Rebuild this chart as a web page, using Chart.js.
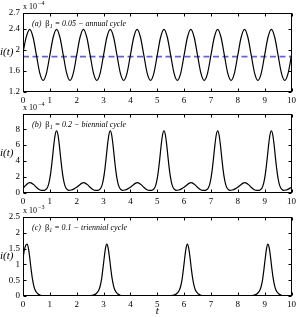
<!DOCTYPE html>
<html>
<head>
<meta charset="utf-8">
<script src="https://cdn.jsdelivr.net/npm/chart.js@4.4.0/dist/chart.umd.min.js"></script>
<style>
  html, body { margin: 0; padding: 0; background: #fff; }
  #wrap { position: relative; width: 299px; height: 317px; }
  canvas { position: absolute; left: 0; }
</style>
</head>
<body>
<div id="wrap">
  <canvas id="pa" width="299" height="105" style="top:0px"></canvas>
  <canvas id="pb" width="299" height="105" style="top:101px"></canvas>
  <canvas id="pc" width="299" height="113" style="top:204px"></canvas>
</div>
<script>
// ---- data (i(t) in units of 1e-4, 1e-4, 1e-3) ----
const X_TICKS = [0, 1, 2, 3, 4, 5, 6, 7, 8, 9, 10];

// (a) annual cycle
const tA = [0,0.125,0.25,0.375,0.5,0.625,0.75,0.875,
  1,1.125,1.25,1.375,1.5,1.625,1.75,1.875,
  2,2.125,2.25,2.375,2.5,2.625,2.75,2.875,
  3,3.125,3.25,3.375,3.5,3.625,3.75,3.875,
  4,4.125,4.25,4.375,4.5,4.625,4.75,4.875,
  5,5.125,5.25,5.375,5.5,5.625,5.75,5.875,
  6,6.125,6.25,6.375,6.5,6.625,6.75,6.875,
  7,7.125,7.25,7.375,7.5,7.625,7.75,7.875,
  8,8.125,8.25,8.375,8.5,8.625,8.75,8.875,
  9,9.125,9.25,9.375,9.5,9.625,9.75,9.875,10];
const iA = [1.95,2.25,2.39,2.24,1.90,1.56,1.42,1.56,
  1.90,2.24,2.39,2.24,1.90,1.56,1.42,1.56,
  1.90,2.24,2.39,2.24,1.90,1.56,1.42,1.56,
  1.90,2.24,2.39,2.24,1.90,1.56,1.42,1.56,
  1.90,2.24,2.39,2.24,1.90,1.56,1.42,1.56,
  1.90,2.24,2.39,2.24,1.90,1.56,1.42,1.56,
  1.90,2.24,2.39,2.24,1.90,1.56,1.42,1.56,
  1.90,2.24,2.39,2.24,1.90,1.56,1.42,1.56,
  1.90,2.24,2.39,2.24,1.90,1.56,1.42,1.56,
  1.90,2.24,2.39,2.24,1.90,1.56,1.42,1.56,1.90];
const MEAN_A = 1.87;
const yTicksA = [1.2, 1.6, 2, 2.4, 2.7];

// (b) biennial cycle
const tB = [
  0,0.1,0.2,0.25,0.3,0.4,0.5,0.6,0.7,0.8,0.85,0.9,0.95,1,1.05,1.1,1.15,1.2,1.25,1.3,1.35,1.4,1.45,1.5,1.55,1.6,1.65,1.7,1.8,1.9,
  2,2.1,2.2,2.25,2.3,2.4,2.5,2.6,2.7,2.8,2.85,2.9,2.95,3,3.05,3.1,3.15,3.2,3.25,3.3,3.35,3.4,3.45,3.5,3.55,3.6,3.65,3.7,3.8,3.9,
  4,4.1,4.2,4.25,4.3,4.4,4.5,4.6,4.7,4.8,4.85,4.9,4.95,5,5.05,5.1,5.15,5.2,5.25,5.3,5.35,5.4,5.45,5.5,5.55,5.6,5.65,5.7,5.8,5.9,
  6,6.1,6.2,6.25,6.3,6.4,6.5,6.6,6.7,6.8,6.85,6.9,6.95,7,7.05,7.1,7.15,7.2,7.25,7.3,7.35,7.4,7.45,7.5,7.55,7.6,7.65,7.7,7.8,7.9,
  8,8.1,8.2,8.25,8.3,8.4,8.5,8.6,8.7,8.8,8.85,8.9,8.95,9,9.05,9.1,9.15,9.2,9.25,9.3,9.35,9.4,9.45,9.5,9.55,9.6,9.65,9.7,9.8,9.9,
  10];
const iB = [
  0.60,0.95,1.24,1.30,1.27,1.05,0.72,0.45,0.32,0.34,0.43,0.63,1.05,1.82,3.00,4.50,6.10,7.33,7.80,7.33,6.10,4.50,3.00,1.82,1.05,0.63,0.43,0.33,0.38,0.52,
  0.72,1.00,1.24,1.30,1.27,1.05,0.72,0.45,0.32,0.34,0.43,0.63,1.05,1.82,3.00,4.50,6.10,7.33,7.80,7.33,6.10,4.50,3.00,1.82,1.05,0.63,0.43,0.33,0.38,0.52,
  0.72,1.00,1.24,1.30,1.27,1.05,0.72,0.45,0.32,0.34,0.43,0.63,1.05,1.82,3.00,4.50,6.10,7.33,7.80,7.33,6.10,4.50,3.00,1.82,1.05,0.63,0.43,0.33,0.38,0.52,
  0.72,1.00,1.24,1.30,1.27,1.05,0.72,0.45,0.32,0.34,0.43,0.63,1.05,1.82,3.00,4.50,6.10,7.33,7.80,7.33,6.10,4.50,3.00,1.82,1.05,0.63,0.43,0.33,0.38,0.52,
  0.72,1.00,1.24,1.30,1.27,1.05,0.72,0.45,0.32,0.34,0.43,0.63,1.05,1.82,3.00,4.50,6.10,7.33,7.80,7.33,6.10,4.50,3.00,1.82,1.05,0.63,0.43,0.33,0.38,0.52,
  0.72];
const yTicksB = [0, 2, 4, 6, 8];

// (c) triennial cycle
const tC = [
  0,0.05,0.1,0.15,0.2,0.25,0.3,0.35,0.4,0.45,0.55,0.65,0.75,0.95,
  2,2.3,2.52,2.62,2.72,2.82,2.87,2.92,2.97,3.02,3.07,3.12,3.17,3.22,3.27,3.32,3.37,3.42,3.52,3.62,3.72,3.92,
  5,5.3,5.52,5.62,5.72,5.82,5.87,5.92,5.97,6.02,6.07,6.12,6.17,6.22,6.27,6.32,6.37,6.42,6.52,6.62,6.72,6.92,
  8,8.3,8.52,8.62,8.72,8.82,8.87,8.92,8.97,9.02,9.07,9.12,9.17,9.22,9.27,9.32,9.37,9.42,9.52,9.62,9.72,9.92,
  10];
const iC = [
  1.20,1.45,1.60,1.64,1.52,1.22,0.86,0.55,0.33,0.19,0.07,0.025,0.008,0,
  0,0.004,0.012,0.03,0.07,0.18,0.30,0.50,0.82,1.18,1.50,1.64,1.52,1.22,0.86,0.55,0.33,0.19,0.07,0.025,0.008,0,
  0,0.004,0.012,0.03,0.07,0.18,0.30,0.50,0.82,1.18,1.50,1.64,1.52,1.22,0.86,0.55,0.33,0.19,0.07,0.025,0.008,0,
  0,0.004,0.012,0.03,0.07,0.18,0.30,0.50,0.82,1.18,1.50,1.64,1.52,1.22,0.86,0.55,0.33,0.19,0.07,0.025,0.008,0,
  0];
const yTicksC = [0, 0.5, 1, 1.5, 2, 2.5];

// ---- helpers ----
const SERIF = '"Liberation Serif", "DejaVu Serif", serif';

function pts(ts, vs) { return ts.map((t, k) => ({ x: t, y: vs[k] })); }

const framePlugin = {
  id: 'frame',
  afterDraw(chart, args, o) {
    const { ctx, chartArea: a } = chart;
    const x = chart.scales.x, y = chart.scales.y;
    const L = Math.round(a.left) + 0.5, R = Math.round(a.right) - 0.5;
    const T = Math.round(a.top) + 0.5, B = Math.round(a.bottom) - 0.5;
    ctx.save();
    ctx.strokeStyle = '#000';
    ctx.lineWidth = 1;
    ctx.strokeRect(L, T, R - L, B - T);
    ctx.beginPath();
    X_TICKS.forEach(v => {
      const px = Math.round(x.getPixelForValue(v)) + 0.5;
      ctx.moveTo(px, B); ctx.lineTo(px, B - 3);
      ctx.moveTo(px, T); ctx.lineTo(px, T + 3);
    });
    o.yTicks.forEach(v => {
      const py = Math.round(y.getPixelForValue(v)) + 0.5;
      ctx.moveTo(L, py); ctx.lineTo(L + 3, py);
      ctx.moveTo(R, py); ctx.lineTo(R - 3, py);
    });
    ctx.stroke();

    ctx.fillStyle = '#000';
    ctx.textBaseline = 'alphabetic';
    ctx.textAlign = 'left';
    // exponent
    ctx.font = '8px ' + SERIF;
    ctx.fillText('x 10', a.left, a.top - 4);
    const w = ctx.measureText('x 10').width;
    ctx.font = '6px ' + SERIF;
    ctx.fillText(o.exp, a.left + w + 1, a.top - 8);

    // panel title
    let xx = a.left + 9;
    const yy = a.top + 12.5;
    function put(txt, font, dy) {
      ctx.font = font;
      ctx.fillText(txt, xx, yy + (dy || 0));
      xx += ctx.measureText(txt).width;
    }
    put(o.tag + '  ', 'italic 8px ' + SERIF);
    put('\u03B2', '8.5px ' + SERIF);
    put('1', 'italic 6px ' + SERIF, 2);
    put(' = ' + o.beta + ' \u2212 ' + o.desc, 'italic 8px ' + SERIF);

    // y label
    ctx.font = 'italic 11px ' + SERIF;
    ctx.textBaseline = 'middle';
    ctx.fillText('i(t)', 0, (a.top + a.bottom) / 2);

    if (o.xTitle) {
      ctx.textAlign = 'center';
      ctx.textBaseline = 'alphabetic';
      ctx.fillText('t', (a.left + a.right) / 2, a.bottom + 18);
    }
    ctx.restore();
  }
};

function makePanel(id, datasets, yMin, yMax, yTicks, frame, padBottom) {
  return new Chart(document.getElementById(id), {
    type: 'line',
    data: { datasets },
    options: {
      responsive: false,
      animation: false,
      events: [],
      layout: { padding: { top: 13, right: 6, left: 0, bottom: padBottom || 0 } },
      elements: { point: { radius: 0 }, line: { cubicInterpolationMode: 'monotone' } },
      plugins: {
        legend: { display: false },
        tooltip: { enabled: false },
        frame: Object.assign({ yTicks }, frame),
      },
      scales: {
        x: {
          type: 'linear', min: 0, max: 10,
          afterBuildTicks: ax => { ax.ticks = X_TICKS.map(v => ({ value: v })); },
          afterFit: ax => { ax.height = 13; },
          grid: { display: false, drawTicks: false },
          border: { display: false },
          ticks: { padding: 3, maxRotation: 0, color: '#000', font: { family: SERIF, size: 9 },
                   callback: v => String(v) },
        },
        y: {
          min: yMin, max: yMax,
          afterBuildTicks: ax => { ax.ticks = yTicks.map(v => ({ value: v })); },
          afterFit: ax => { ax.width = 23; },
          grid: { display: false, drawTicks: false },
          border: { display: false },
          ticks: { padding: 3, color: '#000', font: { family: SERIF, size: 9 },
                   callback: v => String(v) },
        },
      },
    },
    plugins: [framePlugin],
  });
}

const solid = data => ({ data, borderColor: '#000', borderWidth: 1.2, fill: false });

makePanel('pa', [
  solid(pts(tA, iA)),
  { data: [{ x: 0, y: MEAN_A }, { x: 10, y: MEAN_A }], borderColor: '#6464d8',
    borderWidth: 1.8, borderDash: [6, 3.5], fill: false },
], 1.2, 2.7, yTicksA, { exp: '\u22124', tag: '(a)', beta: '0.05', desc: 'annual cycle' });

makePanel('pb', [solid(pts(tB, iB))], 0, 9.9, yTicksB,
  { exp: '\u22124', tag: '(b)', beta: '0.2', desc: 'biennial cycle' });

makePanel('pc', [solid(pts(tC, iC))], 0, 2.5, yTicksC,
  { exp: '\u22123', tag: '(c)', beta: '0.1', desc: 'triennial cycle', xTitle: true }, 8);
</script>
</body>
</html>
